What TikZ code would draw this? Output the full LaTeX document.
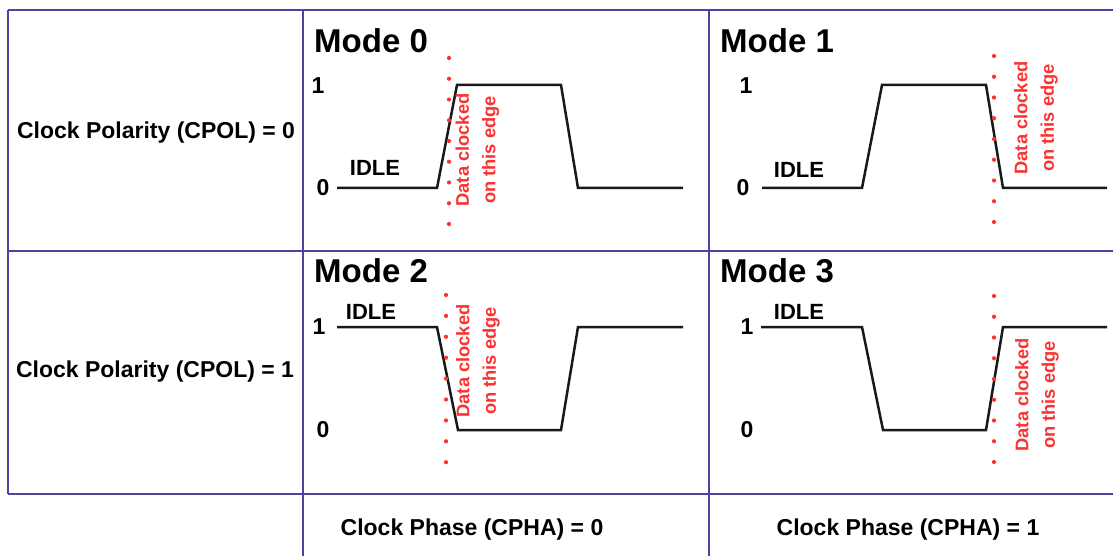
\documentclass[tikz,border=0pt]{standalone}
\usepackage{fontspec}
\setmainfont{Liberation Sans}
\definecolor{gridblue}{RGB}{78,66,158}
\definecolor{edgered}{RGB}{250,50,50}
\begin{document}
\begin{tikzpicture}[x=1pt,y=-1pt,
  gridline/.style={draw=gridblue, line width=1.8pt},
  wave/.style={line width=2.5pt, line join=miter, draw=black!90},
  modelbl/.style={font=\fontsize{33}{39}\selectfont\bfseries, anchor=base west, inner sep=0},
  lvl/.style={font=\fontsize{23}{27}\selectfont\bfseries, inner sep=0},
  idle/.style={font=\fontsize{22}{26}\selectfont\bfseries, inner sep=0},
  clk/.style={rotate=90, align=center, font=\fontsize{18.3}{26.5}\selectfont\bfseries, inner sep=0, text=edgered},
  axislbl/.style={font=\fontsize{23}{27}\selectfont\bfseries, inner sep=0},
  dot/.style={fill=edgered}]
\useasboundingbox (0,0) rectangle (1113,556);
\fill[white] (0,0) rectangle (1113,556);

% table rules
\draw[gridline] (8,10) -- (1113,10);
\draw[gridline] (8,251) -- (1113,251);
\draw[gridline] (8,494) -- (1113,494);
\draw[gridline] (8,10) -- (8,494);
\draw[gridline] (303,10) -- (303,556);
\draw[gridline] (709,10) -- (709,556);

% row and column headings
\node[axislbl] (cpol0) at (156,133) {Clock Polarity (CPOL) = 0};
\node[axislbl] (cpol1) at (155,372) {Clock Polarity (CPOL) = 1};
\node[axislbl] (cpha0) at (472,530) {Clock Phase (CPHA) = 0};
\node[axislbl] (cpha1) at (908,530) {Clock Phase (CPHA) = 1};

% ---- Mode 0 ----
\node[modelbl] (m0) at (314,53) {Mode 0};
\node[lvl] (m0hi) at (318,86) {1};
\node[lvl] (m0lo) at (323,188) {0};
\node[idle] (m0idle) at (375,168) {IDLE};
\draw[wave] (337,188) -- (437,188) -- (457,85) -- (561,85) -- (578,188) -- (683,188);
\foreach \i in {0,...,8} \fill[dot] (449,58+\i*20.75) circle[radius=2.1pt];
\node[clk] (m0edge) at (477.5,150) {Data clocked\\on this edge};

% ---- Mode 1 ----
\node[modelbl] (m1) at (720,53) {Mode 1};
\node[lvl] (m1hi) at (746,86) {1};
\node[lvl] (m1lo) at (743,188) {0};
\node[idle] (m1idle) at (799,170) {IDLE};
\draw[wave] (762,188) -- (862,188) -- (882,85) -- (986,85) -- (1003,188) -- (1107,188);
\foreach \i in {0,...,8} \fill[dot] (994,56+\i*20.75) circle[radius=2.1pt];
\node[clk] (m1edge) at (1036,118) {Data clocked\\on this edge};

% ---- Mode 2 ----
\node[modelbl] (m2) at (314,282) {Mode 2};
\node[lvl] (m2hi) at (319,327) {1};
\node[lvl] (m2lo) at (323,430) {0};
\node[idle] (m2idle) at (371,312) {IDLE};
\draw[wave] (337,327) -- (437,327) -- (458,430) -- (561,430) -- (578,327) -- (683,327);
\foreach \i in {0,...,8} \fill[dot] (446,295+\i*20.9) circle[radius=2.1pt];
\node[clk] (m2edge) at (478,361) {Data clocked\\on this edge};

% ---- Mode 3 ----
\node[modelbl] (m3) at (720,282) {Mode 3};
\node[lvl] (m3hi) at (747,327) {1};
\node[lvl] (m3lo) at (747,430) {0};
\node[idle] (m3idle) at (799,312) {IDLE};
\draw[wave] (761,327) -- (862,327) -- (883,430) -- (986,430) -- (1003,327) -- (1107,327);
\foreach \i in {0,...,8} \fill[dot] (994,296+\i*20.75) circle[radius=2.1pt];
\node[clk] (m3edge) at (1037,395) {Data clocked\\on this edge};
\end{tikzpicture}
\end{document}
